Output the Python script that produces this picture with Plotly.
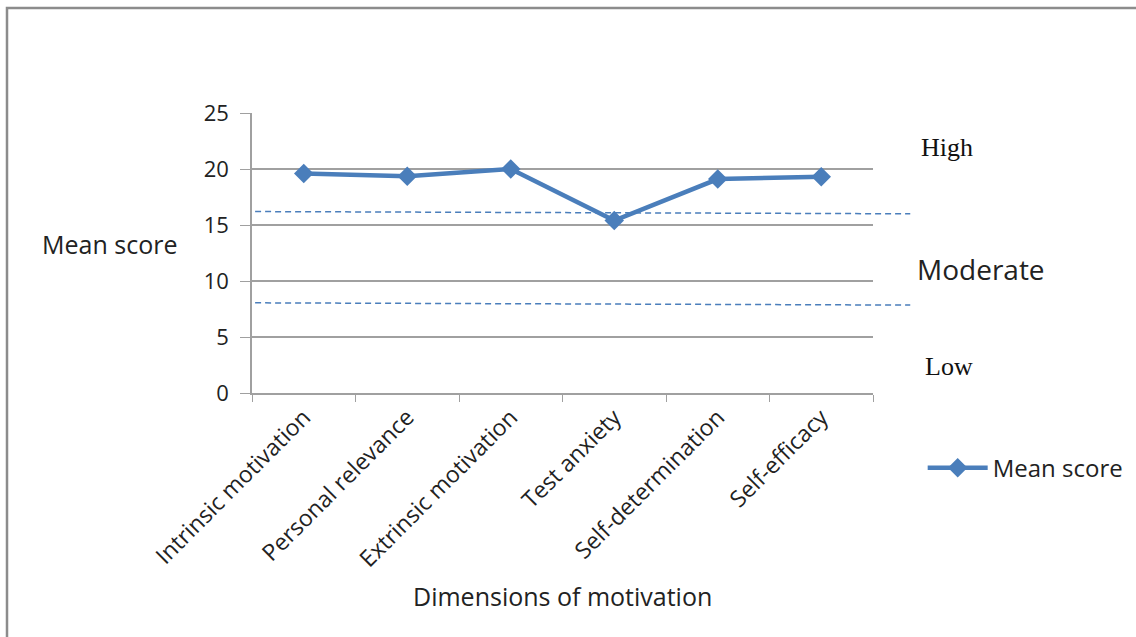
import plotly.graph_objects as go

categories = ["Intrinsic motivation", "Personal relevance", "Extrinsic motivation",
              "Test anxiety", "Self-determination", "Self-efficacy"]
mean_scores = [19.6, 19.35, 20.0, 15.4, 19.1, 19.3]
high_threshold = [16.2, 16.0]   # dashed line, left and right ends
low_threshold = [8.05, 7.85]
y_ticks = [0, 5, 10, 15, 20, 25]

BLUE = "#4a7ebb"
GRID = "#a0a0a0"
SANS = "'Open Sans', Lato, sans-serif"
SERIF = "'Liberation Serif', 'Times New Roman', serif"
TXT = "#222"

fig = go.Figure()
fig.add_trace(go.Scatter(
    x=categories, y=mean_scores, mode="lines+markers", name="Mean score",
    line=dict(color=BLUE, width=4.5),
    marker=dict(symbol="diamond", size=15, color=BLUE),
))

for vals in (high_threshold, low_threshold):
    fig.add_shape(type="line", xref="x domain", yref="y",
                  x0=0.005, x1=1.06, y0=vals[0], y1=vals[1],
                  line=dict(color=BLUE, width=1.5, dash="6px,4px"))

# outer frame (top and left edges visible, others run off the image)
fig.add_shape(type="rect", xref="paper", yref="paper",
              x0=-245/621, x1=920/621, y0=-270/280, y1=385/280,
              line=dict(color="#8c8c8c", width=2.5), layer="below")

fig.update_layout(
    width=1136, height=637,
    margin=dict(l=252, r=263, t=113, b=244, autoexpand=False),
    paper_bgcolor="white", plot_bgcolor="white",
    font=dict(family=SANS, size=22, color=TXT),
    showlegend=True,
    legend=dict(x=1.08, y=-0.268, xanchor="left", yanchor="middle",
                itemwidth=60,
                font=dict(family=SANS, size=24, color=TXT),
                bgcolor="rgba(0,0,0,0)"),
    xaxis=dict(
        type="category", range=[-0.5, len(categories) - 0.5], tickangle=-45, showgrid=False,
        showline=True, linecolor=GRID, linewidth=1.5,
        ticks="outside", tickson="boundaries", ticklen=7, tickcolor=GRID,
        tickfont=dict(family=SANS, size=23, color=TXT),
    ),
    yaxis=dict(
        range=[0, 25], tickvals=y_ticks, showgrid=True, gridcolor=GRID, gridwidth=1.5,
        zeroline=False, showline=True, linecolor=GRID, linewidth=1.5,
        ticks="outside", ticklen=10, tickcolor=GRID, ticklabelstandoff=7,
        tickfont=dict(family=SANS, size=22, color=TXT),
    ),
)

fig.add_annotation(text="Dimensions of motivation", xref="paper", yref="paper",
                   x=0.5, y=(393-596)/280, xanchor="center", yanchor="middle",
                   showarrow=False, font=dict(family=SANS, size=25, color=TXT))
fig.add_annotation(text="Mean score", xref="paper", yref="paper",
                   x=-212/621, y=(393-244)/280, xanchor="left", yanchor="middle",
                   showarrow=False, font=dict(family=SANS, size=25, color=TXT))
fig.add_annotation(text="High", xref="paper", yref="paper",
                   x=(919-252)/621, y=(393-147)/280, xanchor="left", yanchor="middle",
                   showarrow=False, font=dict(family=SERIF, size=26, color="#111"))
fig.add_annotation(text="Moderate", xref="paper", yref="paper",
                   x=(915-252)/621, y=(393-269)/280, xanchor="left", yanchor="middle",
                   showarrow=False, font=dict(family=SANS, size=28, color=TXT))
fig.add_annotation(text="Low", xref="paper", yref="paper",
                   x=(923-252)/621, y=(393-366)/280, xanchor="left", yanchor="middle",
                   showarrow=False, font=dict(family=SERIF, size=26, color="#111"))

fig.write_html("out.html")
